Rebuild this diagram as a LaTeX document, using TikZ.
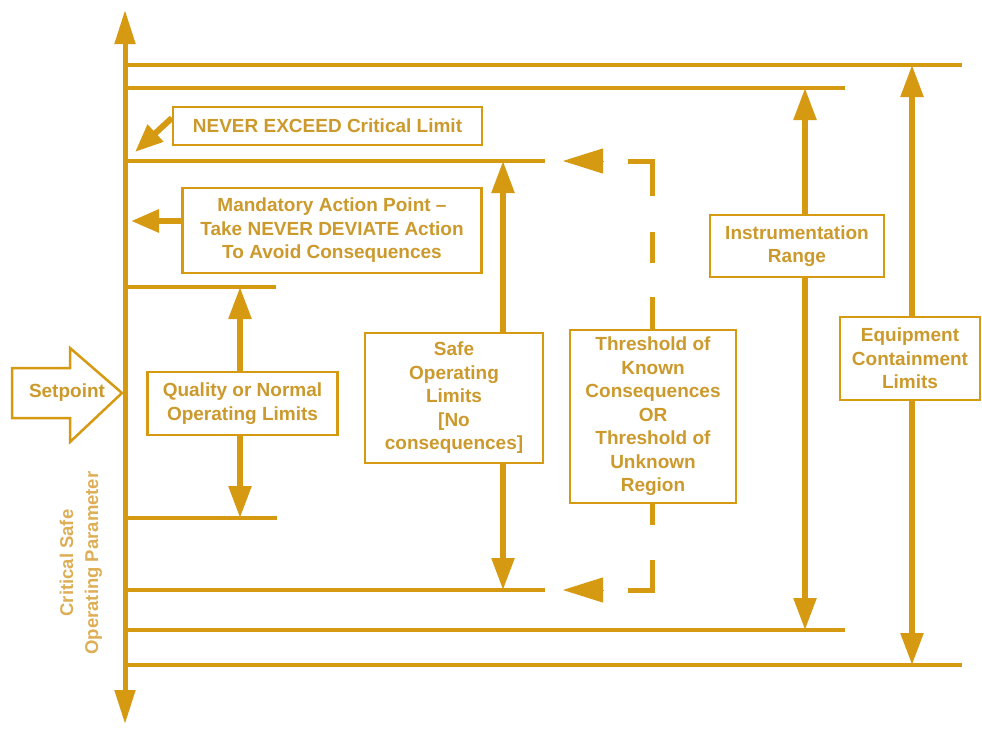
\documentclass[tikz,border=0pt]{standalone}
\usepackage{fontspec}
\setmainfont{Liberation Sans}
\usepackage{tikz}
\usetikzlibrary{arrows.meta,positioning}
\definecolor{amber}{HTML}{D69A12}
\definecolor{ambertext}{HTML}{CC9A2C}
\definecolor{amberlight}{HTML}{DDAE55}

\tikzset{
  limline/.style={amber,line width=3.5pt},
  axisline/.style={amber,line width=5pt,{Triangle[length=34pt,width=20pt]}-{Triangle[length=34pt,width=20pt]}},
  rangearrow/.style={amber,line width=5.5pt,{Triangle[length=32pt,width=22pt]}-{Triangle[length=32pt,width=22pt]}},
  pointer/.style={amber,line width=6pt,-{Triangle[length=28pt,width=22pt]}},
  headonly/.style={amber,line width=1pt,-{Triangle[length=40pt,width=25pt]}},
  dashlim/.style={amber,line width=5pt,line join=miter,
    dash pattern=on 59pt off 36pt on 31pt off 34pt on 228pt off 35pt on 54pt},
  tbox/.style={draw=amber,line width=2.3pt,fill=white,text=ambertext,align=center,inner sep=0pt,
    font=\bfseries\fontsize{19}{23.5}\selectfont},
}

\begin{document}
\begin{tikzpicture}[x=1pt,y=-1pt]
  \useasboundingbox (0,0) rectangle (982,728);
  % limit lines
  \foreach \y/\e in {65/962,88/845,161/545,287/276,518/277,590/545,630/845,665/962}
    {\draw[limline] (125,\y)--(\e,\y);}
  \coordinate (axtop) at (125,10);
  \coordinate (axbot) at (125,724);
  \draw[axisline] (axbot)--(axtop);
  % ranges
  \coordinate (qtop) at (240,287); \coordinate (qbot) at (240,518);
  \coordinate (stop) at (503,161); \coordinate (sbot) at (503,590);
  \coordinate (itop) at (805,88);  \coordinate (ibot) at (805,630);
  \coordinate (etop) at (912,65);  \coordinate (ebot) at (912,665);
  \draw[rangearrow] (qtop)--(qbot);
  \draw[rangearrow] (stop)--(sbot);
  \draw[rangearrow] (itop)--(ibot);
  \draw[rangearrow] (etop)--(ebot);
  % threshold bracket
  \draw[dashlim] (628,161)--(652,161)--(652,590)--(628,590);
  \draw[headonly] (603,161)--(563,161);
  \draw[headonly] (603,590)--(563,590);
  % labels
  \node[tbox,minimum width=309pt,minimum height=38pt] (neverbox) at (327.5,126) {NEVER EXCEED Critical Limit};
  \node[tbox,minimum width=299pt,minimum height=85pt] (mandbox) at (332,230.5)
    {Mandatory Action Point --\\Take NEVER DEVIATE Action\\To Avoid Consequences};
  \node[tbox,minimum width=190pt,minimum height=63pt] (qualbox) at (242.5,403.5) {Quality or Normal\\Operating Limits};
  \node[tbox,minimum width=178pt,minimum height=130pt] (safebox) at (454,398)
    {Safe\\Operating\\Limits\\{[}No\\consequences{]}};
  \node[tbox,minimum width=166pt,minimum height=173pt] (threshbox) at (653,416.5)
    {Threshold of\\Known\\Consequences\\OR\\Threshold of\\Unknown\\Region};
  \node[tbox,minimum width=174pt,minimum height=62pt] (instrbox) at (797,246) {Instrumentation\\Range};
  \node[tbox,minimum width=140pt,minimum height=83pt] (equipbox) at (910,358.5) {Equipment\\Containment\\Limits};
  % pointers to the axis
  \coordinate (nevtip) at (135,152);
  \coordinate (mandtip) at (131,221);
  \draw[pointer] ([yshift=8pt]neverbox.west)--(nevtip);
  \draw[pointer] (mandtip -| mandbox.west)--(mandtip);
  % setpoint
  \draw[amber,line width=2.5pt,line join=miter,fill=white]
    (12,368)--(70,368)--(70,348)--(122,393)--(70,442)--(70,418)--(12,418)--cycle;
  \node[text=ambertext,font=\bfseries\fontsize{19}{23.5}\selectfont] (setpt) at (67,393) {Setpoint};
  \node[rotate=90,text=amberlight,align=center,font=\bfseries\fontsize{18.5}{25}\selectfont] (param) at (81,563)
    {Critical Safe\\Operating Parameter};
\end{tikzpicture}
\end{document}
